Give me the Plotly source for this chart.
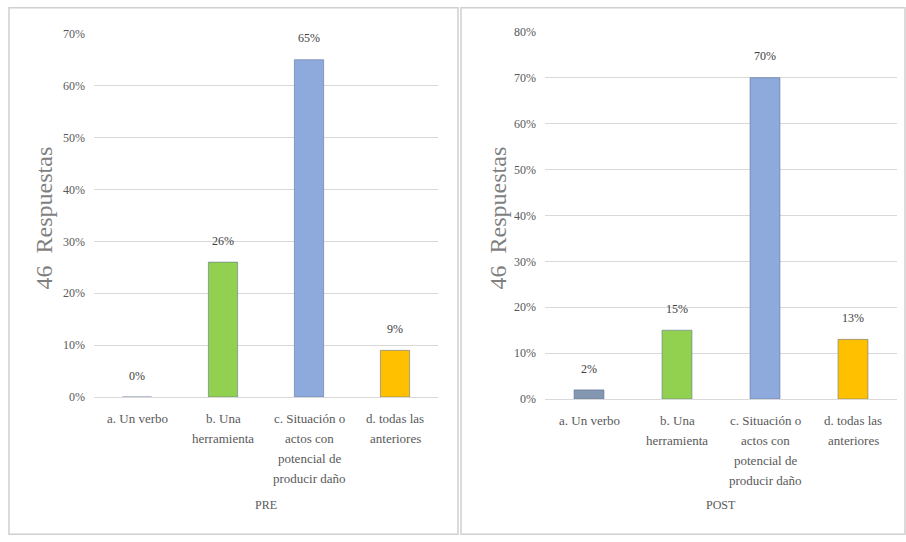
import plotly.graph_objects as go

categories = ["a. Un verbo", "b. Una herramienta",
              "c. Situación o actos con potencial de producir daño",
              "d. todas las anteriores"]
category_lines = [["a. Un verbo"], ["b. Una", "herramienta"],
                  ["c. Situación o", "actos con", "potencial de", "producir daño"],
                  ["d. todas las", "anteriores"]]
pre_values = [0.00, 0.26, 0.65, 0.09]
post_values = [0.02, 0.15, 0.70, 0.13]
pre_labels = ["0%", "26%", "65%", "9%"]
post_labels = ["2%", "15%", "70%", "13%"]
bar_colors = ["#8497B0", "#92D050", "#8EA9DB", "#FFC000"]
y_title = "46  Respuestas"
panel_titles = ["PRE", "POST"]

W, H = 906, 542
# vertical compensation for the capture (measured: page y -> 6.2 + 0.976*y)
VS, VO = 0.976, 6.2
def px(x): return x / W
def py(y): return 1 - ((y - VO) / VS) / H
def sh(d): return d / VS

SERIF = "Liberation Serif"
GRAY = "#595959"

fig = go.Figure()
fig.add_trace(go.Bar(x=categories, y=pre_values, marker_color=bar_colors,
                     marker_line=dict(color="rgba(90,110,150,0.55)", width=1),
                     xaxis="x", yaxis="y", showlegend=False, hoverinfo="skip"))
fig.add_trace(go.Bar(x=categories, y=post_values, marker_color=bar_colors,
                     marker_line=dict(color="rgba(90,110,150,0.55)", width=1),
                     xaxis="x2", yaxis="y2", showlegend=False, hoverinfo="skip"))

annotations = []
for xr, yr, vals, labs in (("x", "y", pre_values, pre_labels), ("x2", "y2", post_values, post_labels)):
    for c, v, l in zip(categories, vals, labs):
        annotations.append(dict(x=c, y=v, xref=xr, yref=yr, text=l, showarrow=False,
                                xanchor="center", yanchor="bottom", yshift=sh(12),
                                font=dict(family=SERIF, size=12, color="#404040")))
    # category labels, one annotation per line for Excel-like line spacing
    for c, lines in zip(categories, category_lines):
        for i, line in enumerate(lines):
            annotations.append(dict(x=c, y=0, xref=xr, yref=yr, text=line, showarrow=False,
                                    xanchor="center", yanchor="middle",
                                    yshift=-sh(21 + 19.5 * i),
                                    font=dict(family=SERIF, size=13, color=GRAY)))

# axis titles
for xc, yc in ((44, 218), (498, 218)):
    annotations.append(dict(x=px(xc), y=py(yc), xref="paper", yref="paper", text=y_title,
                            textangle=-90, showarrow=False, xanchor="center", yanchor="middle",
                            font=dict(family=SERIF, size=24, color="#7F7F7F")))
for t, xc in zip(panel_titles, (266, 721)):
    annotations.append(dict(x=px(xc), y=py(505), xref="paper", yref="paper", text=t,
                            showarrow=False, xanchor="center", yanchor="middle",
                            font=dict(family=SERIF, size=12, color=GRAY)))

xcommon = dict(showgrid=False, showline=False, zeroline=False, ticks="",
               showticklabels=False, fixedrange=True)
ycommon = dict(showgrid=True, gridcolor="#D9D9D9", gridwidth=1, zeroline=True,
               zerolinecolor="#D9D9D9", zerolinewidth=1, showline=False,
               tickformat=".0%", dtick=0.1, ticks="", fixedrange=True,
               tickfont=dict(family=SERIF, size=12, color=GRAY), ticklabelstandoff=8)

fig.update_layout(
    width=W, height=H, margin=dict(l=0, r=0, t=0, b=0),
    paper_bgcolor="white", plot_bgcolor="white", bargap=0.66,
    xaxis=dict(domain=[px(94), px(438)], anchor="y", **xcommon),
    yaxis=dict(domain=[py(397), py(33)], range=[0, 0.7], anchor="x", **ycommon),
    xaxis2=dict(domain=[px(545), px(897)], anchor="y2", **xcommon),
    yaxis2=dict(domain=[py(399), py(31)], range=[0, 0.8], anchor="x2", **ycommon),
    annotations=annotations,
    shapes=[
        dict(type="rect", xref="paper", yref="paper", x0=px(9), x1=px(458),
             y0=0.0015, y1=0.9985, line=dict(color="#D0D0D0", width=1.5)),
        dict(type="rect", xref="paper", yref="paper", x0=px(461), x1=px(905),
             y0=0.0015, y1=0.9985, line=dict(color="#D0D0D0", width=1.5)),
    ],
)

post = "document.body.style.margin='0';document.body.style.overflow='hidden';"
fig.write_html("out.html", config={"displayModeBar": False}, post_script=post)
